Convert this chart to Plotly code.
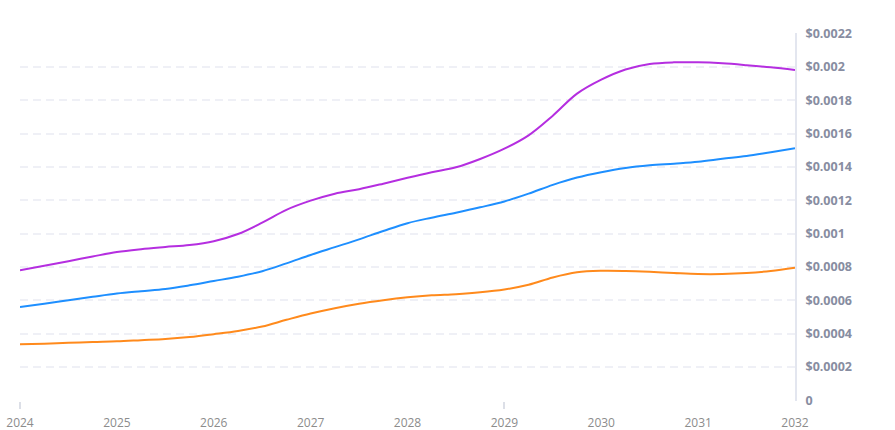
import plotly.graph_objects as go

years = [2024 + 0.25 * i for i in range(33)]

purple = [0.000781, 0.000808, 0.000835, 0.000863, 0.000890, 0.000907, 0.000920, 0.000932,
          0.000955, 0.000998, 0.001066, 0.001143, 0.001198, 0.001240, 0.001267, 0.001300,
          0.001335, 0.001368, 0.001398, 0.001448, 0.001510, 0.001590, 0.001708, 0.001840,
          0.001924, 0.001985, 0.002018, 0.002028, 0.002028, 0.002022, 0.002011, 0.001998,
          0.001982]
blue = [0.000560, 0.000580, 0.000600, 0.000621, 0.000641, 0.000655, 0.000668, 0.000690,
        0.000716, 0.000742, 0.000775, 0.000822, 0.000872, 0.000919, 0.000966, 0.001016,
        0.001063, 0.001096, 0.001126, 0.001158, 0.001193, 0.001240, 0.001293, 0.001337,
        0.001369, 0.001394, 0.001410, 0.001420, 0.001431, 0.001449, 0.001466, 0.001489,
        0.001512]
orange = [0.000336, 0.000340, 0.000345, 0.000350, 0.000354, 0.000361, 0.000368, 0.000380,
          0.000397, 0.000416, 0.000443, 0.000483, 0.000521, 0.000553, 0.000580, 0.000601,
          0.000618, 0.000630, 0.000637, 0.000648, 0.000665, 0.000693, 0.000737, 0.000768,
          0.000777, 0.000776, 0.000771, 0.000764, 0.000758, 0.000758, 0.000764, 0.000776,
          0.000795]

y_ticks = [0, 0.0002, 0.0004, 0.0006, 0.0008, 0.001, 0.0012, 0.0014, 0.0016, 0.0018, 0.002, 0.0022]
y_labels = ["0", "$0.0002", "$0.0004", "$0.0006", "$0.0008", "$0.001", "$0.0012",
            "$0.0014", "$0.0016", "$0.0018", "$0.002", "$0.0022"]
x_ticks = [2024, 2025, 2026, 2027, 2028, 2029, 2030, 2031, 2032]
x_labels = [str(v) for v in x_ticks]
x_marked = [2024, 2029]

fig = go.Figure()
for vals, col in [(orange, "#ff8a1c"), (blue, "#1e8fff"), (purple, "#b52ee0")]:
    fig.add_trace(go.Scatter(x=years, y=vals, mode="lines",
                             line=dict(color=col, width=2, shape="spline", smoothing=1.0),
                             hoverinfo="skip", showlegend=False, cliponaxis=False))

# invisible trace to activate tick axis
fig.add_trace(go.Scatter(x=[2024, 2032], y=[0, 0], xaxis="x2", mode="lines",
                         line=dict(width=0), showlegend=False, hoverinfo="skip"))

fig.update_layout(
    width=895, height=430,
    margin=dict(l=20, r=100, t=33, b=29),
    paper_bgcolor="white", plot_bgcolor="white",
    font=dict(family="Open Sans, Liberation Sans, sans-serif"),
    hovermode=False,
    xaxis=dict(range=[2024, 2032], tickvals=x_ticks, ticktext=x_labels, automargin=False,
               showgrid=False, zeroline=False, showline=False, ticks="",
               ticklabeloverflow="allow",
               tickfont=dict(size=12, color="#8c8c8c"), ticklabelstandoff=13),
    xaxis2=dict(range=[2024, 2032], overlaying="x", side="bottom", tickvals=x_marked,
                showticklabels=False, ticks="outside", ticklen=7, tickwidth=2, automargin=False,
                tickcolor="#dcdfe7", showgrid=False, zeroline=False, showline=False),
    yaxis=dict(range=[-0.000004, 0.002204], side="right", tickvals=y_ticks, ticktext=y_labels,
               automargin=False,
               showgrid=True, gridcolor="#eff0f6", gridwidth=2, griddash="8px,5px",
               zeroline=False, showline=True, linecolor="#e3e6ef", linewidth=2,
               tickfont=dict(size=12.5, color="#878da1", weight="bold"),
               ticks="", ticklabelstandoff=6),
)

fig.write_html("out.html", config={"displayModeBar": False},
               post_script="document.body.style.margin='0';")
